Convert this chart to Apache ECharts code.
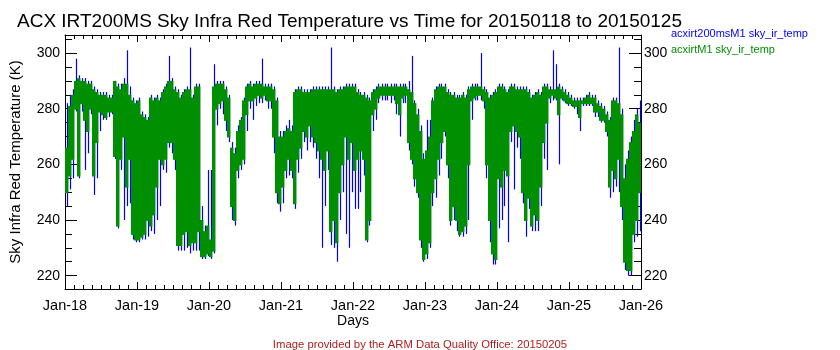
<!DOCTYPE html>
<html>
<head>
<meta charset="utf-8">
<script src="https://cdn.jsdelivr.net/npm/echarts@6/dist/echarts.min.js"></script>
<style>
  html, body { margin: 0; padding: 0; background: #ffffff; }
  #chart { width: 840px; height: 350px; }
</style>
</head>
<body>
<div id="chart"></div>
<script>
// Day tick labels (x axis counts days from 2015-01-18 00:00)
const dayLabels = ['Jan-18', 'Jan-19', 'Jan-20', 'Jan-21', 'Jan-22', 'Jan-23', 'Jan-24', 'Jan-25', 'Jan-26'];
// Temperature tick marks (K)
const tempTicks = [220, 240, 260, 280, 300];
const tempMinorTicks = [220, 225, 230, 235, 240, 245, 250, 255, 260, 265, 270, 275, 280, 285, 290, 295, 300, 305];

const seriesNames = ['acxirt200msM1 sky_ir_temp', 'acxirtM1 sky_ir_temp'];

// Hourly maximum / minimum of sky IR temperature (K), one row per day
const irt200High = [
  282,285,287,298,292,291,291,290,290,288,287,286,286,286,285,285,290,289,289,291,301,288,284,283,
  284,279,278,277,285,284,285,284,287,289,299,291,288,287,285,287,288,302,285,289,289,245,238,258,
  258,296,290,290,290,288,285,268,266,274,277,284,289,290,289,290,290,298,289,289,289,288,284,272,
  272,274,276,274,287,288,288,287,287,287,288,288,288,288,288,288,302,288,287,288,288,289,289,289,
  289,287,286,286,285,284,287,288,289,289,289,289,289,289,289,289,289,289,290,299,283,280,274,264,
  276,276,284,288,289,289,289,287,286,286,285,285,286,285,288,289,289,289,300,288,287,285,286,287,
  289,289,288,287,289,289,288,288,288,288,287,285,286,287,286,289,289,288,301,296,289,288,287,286,
  285,284,284,284,284,285,286,285,285,283,282,281,279,277,284,284,302,280,260,265,270,276,280,283
];
const irt200Low = [
  245,251,255,279,255,279,258,264,278,249,255,272,276,276,277,278,262,237,258,240,245,246,233,232,
  232,233,233,234,236,235,240,245,258,257,266,264,258,229,229,229,230,228,229,229,229,226,226,227,
  226,228,274,280,278,272,268,240,238,255,258,260,272,280,276,281,282,282,283,280,280,264,246,243,
  246,255,256,255,244,257,262,268,265,268,266,262,255,230,245,258,231,230,225,240,250,235,230,250,
  244,244,250,256,232,238,272,276,282,283,283,283,282,283,278,270,282,282,265,260,252,248,230,225,
  226,230,245,248,256,262,270,255,238,240,236,234,234,235,240,276,283,283,283,280,255,232,224,224,
  237,240,245,232,268,251,266,262,246,234,244,236,236,236,245,262,258,282,283,283,260,283,282,281,
  281,280,278,272,281,281,281,281,277,277,275,275,270,248,250,252,250,240,222,220,220,232,234,236
];
const irtHigh = [
  266,281,285,290,291,290,290,289,289,287,286,285,285,285,284,284,290,288,287,289,289,285,283,282,
  283,278,277,276,284,283,284,283,286,288,290,290,287,286,284,286,287,287,284,288,288,240,236,238,
  233,288,289,289,289,287,284,266,264,272,276,283,288,289,288,289,289,289,288,288,288,287,283,270,
  270,272,273,272,286,287,287,286,286,286,287,287,287,287,287,287,287,287,286,287,287,288,288,288,
  288,286,285,285,284,283,286,287,288,288,288,288,288,288,288,288,288,288,287,286,282,278,272,262,
  265,270,283,287,288,288,288,286,285,285,284,284,285,284,287,288,288,288,288,287,286,284,285,286,
  288,288,287,286,288,288,287,287,287,287,286,284,285,286,285,288,288,287,287,287,288,287,286,285,
  284,283,283,283,283,284,285,284,284,282,281,280,278,276,283,283,282,278,255,262,268,272,278,275
];
const irtLow = [
  250,256,262,280,256,282,276,272,280,256,268,279,278,277,279,279,263,238,262,270,252,262,235,233,
  233,234,235,240,238,242,252,262,260,262,268,268,262,231,231,235,236,231,232,232,236,227,227,228,
  227,229,280,282,283,276,270,245,240,258,260,262,278,283,283,284,285,284,285,283,283,270,250,246,
  252,258,262,258,246,262,266,272,270,274,270,268,265,262,258,265,236,240,232,250,260,270,262,268,
  258,262,265,262,233,240,278,280,284,285,285,285,285,285,282,278,284,285,268,262,255,250,233,226,
  228,232,250,255,262,268,272,260,240,245,240,235,236,238,260,283,284,285,285,283,260,240,228,226,
  255,252,258,256,272,274,272,270,250,240,248,238,242,240,252,268,275,284,285,284,278,284,283,282,
  282,281,281,277,282,282,282,282,279,279,276,276,272,252,258,255,262,245,225,222,222,235,240,250
];

// One record per hour: [start time in days, hourly max, hourly min]
function hourlyRanges(high, low) {
  return high.map(function (hi, h) { return [h / 24, hi, low[h]]; });
}

// Filled column spanning the hour's min..max range.
function rangeColumn(color) {
  return function (params, api) {
    const t = api.value(0);
    const top = api.coord([t, api.value(1)]);
    const bottom = api.coord([t + 1 / 24, api.value(2)]);
    return {
      type: 'rect',
      shape: { x: top[0], y: top[1], width: bottom[0] - top[0] + 0.4, height: bottom[1] - top[1] + 1 },
      style: { fill: color }
    };
  };
}

// Thin vertical stroke spanning the hour's min..max range.
function rangeStroke(color) {
  return function (params, api) {
    const t = api.value(0);
    const top = api.coord([t + 0.5 / 24, api.value(1)]);
    const bottom = api.coord([t + 0.5 / 24, api.value(2)]);
    const x = Math.round(top[0]) + 0.5;
    return {
      type: 'line',
      shape: { x1: x, y1: top[1], x2: x, y2: bottom[1] },
      style: { stroke: color, lineWidth: 1.2 }
    };
  };
}

const FONT = 'Liberation Sans';
const BLUE = '#0000ff';
const GREEN = '#008f00';

const chart = echarts.init(document.getElementById('chart'), null, { renderer: 'canvas' });

const xCommon = {
  type: 'value', min: 0, max: 8, interval: 1,
  axisLine: { show: true, lineStyle: { color: '#000', width: 1 } },
  axisTick: { show: true, inside: true, length: 7, lineStyle: { color: '#000' } },
  minorTick: { show: true, splitNumber: 8, length: 4, lineStyle: { color: '#000' } },
  splitLine: { show: false },
  minorSplitLine: { show: false }
};

const yRange = { type: 'value', min: 215.2, max: 306.5, splitLine: { show: false } };

function yMajor(position) {
  return Object.assign({}, yRange, {
    position: position,
    axisLine: { show: true, lineStyle: { color: '#000', width: 1 } },
    axisTick: { show: true, inside: true, length: 12, customValues: tempTicks, lineStyle: { color: '#000' } },
    axisLabel: {
      show: true, customValues: tempTicks, margin: position === 'left' ? 5 : 3,
      color: '#000', fontFamily: FONT, fontSize: 14
    }
  });
}
function yMinor(position) {
  return Object.assign({}, yRange, {
    position: position,
    axisLine: { show: false },
    axisTick: { show: true, inside: true, length: 7, customValues: tempMinorTicks, lineStyle: { color: '#000' } },
    axisLabel: { show: false }
  });
}

const option = {
  animation: false,
  backgroundColor: '#ffffff',
  textStyle: { fontFamily: FONT },
  title: [
    {
      text: 'ACX IRT200MS Sky Infra Red Temperature vs Time for 20150118 to 20150125',
      left: 17, top: 12, padding: 0,
      textStyle: { fontFamily: FONT, fontSize: 19, fontWeight: 'normal', color: '#000' }
    },
    {
      text: 'Image provided by the ARM Data Quality Office: 20150205',
      left: 'center', top: 339, padding: 0,
      textStyle: { fontFamily: FONT, fontSize: 11.3, fontWeight: 'normal', color: '#b01c1c' }
    }
  ],
  legend: {
    orient: 'vertical', left: 666, top: 28, padding: 0, itemGap: 5,
    itemWidth: 0, itemHeight: 0, selectedMode: false,
    textStyle: { fontFamily: FONT, fontSize: 11 },
    data: [
      { name: seriesNames[0], icon: 'rect', textStyle: { color: BLUE } },
      { name: seriesNames[1], icon: 'rect', textStyle: { color: GREEN } }
    ]
  },
  grid: { left: 60, top: 35, width: 581, height: 254, containLabel: false },
  xAxis: [
    Object.assign({}, xCommon, {
      position: 'bottom',
      axisLabel: {
        show: true, margin: 9, color: '#000', fontFamily: FONT, fontSize: 14.5,
        formatter: function (v) { return dayLabels[Math.round(v)]; }
      },
      name: 'Days', nameLocation: 'middle', nameGap: 25, nameMoveOverlap: false,
      nameTextStyle: { color: '#000', fontFamily: FONT, fontSize: 14 }
    }),
    Object.assign({}, xCommon, { position: 'top', axisLabel: { show: false } })
  ],
  yAxis: [
    Object.assign(yMajor('left'), {
      name: 'Sky Infra Red Temperature (K)', nameLocation: 'middle', nameGap: 42, nameRotate: 90,
      nameMoveOverlap: false,
      nameTextStyle: { color: '#000', fontFamily: FONT, fontSize: 15 }
    }),
    yMinor('left'),
    yMajor('right'),
    yMinor('right')
  ],
  series: [
    {
      name: seriesNames[0], type: 'custom', xAxisIndex: 0, yAxisIndex: 0,
      data: hourlyRanges(irt200High, irt200Low),
      encode: { x: 0, y: [1, 2] }, clip: true, silent: true,
      renderItem: rangeStroke(BLUE), itemStyle: { color: BLUE }
    },
    {
      name: seriesNames[1], type: 'custom', xAxisIndex: 0, yAxisIndex: 0,
      data: hourlyRanges(irtHigh, irtLow),
      encode: { x: 0, y: [1, 2] }, clip: true, silent: true,
      renderItem: rangeColumn(GREEN), itemStyle: { color: GREEN }
    }
  ]
};

chart.setOption(option);
</script>
</body>
</html>
